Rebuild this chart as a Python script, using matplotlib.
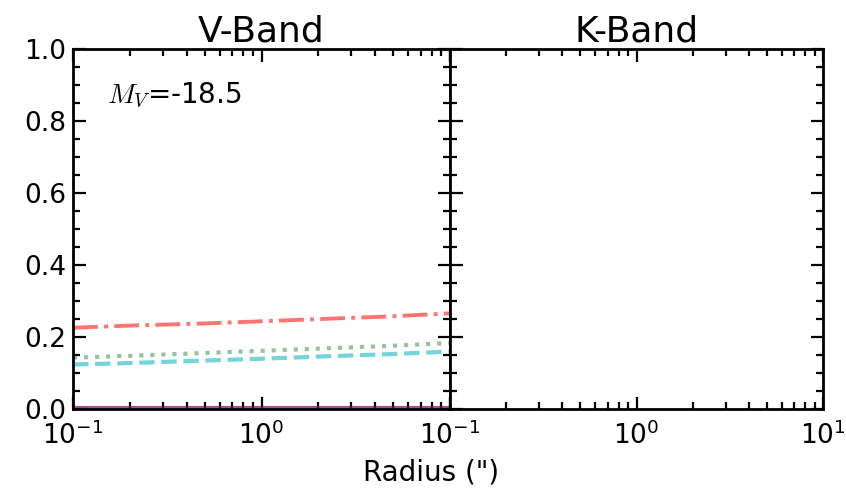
#!/usr/bin/env python3
"""
Radial profiles in V and K band, two panels sharing the y axis
"""

import matplotlib
matplotlib.use('Agg')
import matplotlib.pyplot as plt
from matplotlib.ticker import MultipleLocator, LogLocator, NullFormatter

# radius grid (arcsec) and V-band profiles
radius = [0.1, 0.2, 0.5, 1.0, 2.0, 5.0, 10.0]
v_red = [0.226, 0.232, 0.238, 0.244, 0.250, 0.258, 0.266]
v_green = [0.143, 0.148, 0.156, 0.162, 0.168, 0.176, 0.184]
v_cyan = [0.124, 0.128, 0.135, 0.140, 0.146, 0.153, 0.160]
v_purple = [0.003, 0.003, 0.003, 0.003, 0.003, 0.003, 0.003]

titles = ['V-Band', 'K-Band']
mag_text = r'$M_V$=-18.5'


def __style(ax):
    ax.set_xscale('log')
    ax.set_xlim(0.1, 10)
    ax.set_ylim(0.0, 1.0)
    ax.xaxis.set_major_locator(LogLocator(base=10, numticks=5))
    ax.xaxis.set_minor_locator(LogLocator(base=10, subs=range(2, 10), numticks=10))
    ax.xaxis.set_minor_formatter(NullFormatter())
    ax.yaxis.set_major_locator(MultipleLocator(0.2))
    ax.yaxis.set_minor_locator(MultipleLocator(0.05))
    ax.tick_params(which='both', direction='in', top=True, right=True, width=1.6)
    ax.tick_params(which='major', length=9)
    ax.tick_params(which='minor', length=5)
    ax.tick_params(axis='y', labelsize=19, pad=5)
    ax.tick_params(axis='x', labelsize=19, pad=9)
    for s in ax.spines.values():
        s.set_linewidth(2.0)


def main():
    fig = plt.figure(figsize=(8.46, 4.9), dpi=100)
    ax1 = fig.add_axes([0.0863, 0.165, 0.4457, 0.735])
    ax2 = fig.add_axes([0.532, 0.165, 0.441, 0.735], sharey=ax1)

    ax1.plot(radius, v_red, color='red', ls='-.', lw=2.8, alpha=0.55)
    ax1.plot(radius, v_green, color='#2e8b3a', ls=':', lw=3.0, alpha=0.5)
    ax1.plot(radius, v_cyan, color='#00b4b4', ls='--', lw=3.0, alpha=0.55)
    ax1.plot(radius, v_purple, color='purple', ls='-', lw=3.0, alpha=0.7)

    for ax, t in zip((ax1, ax2), titles):
        __style(ax)
        ax.set_title(t, fontsize=26, pad=5)

    ax1.set_yticks([0.0, 0.2, 0.4, 0.6, 0.8, 1.0])
    ax1.set_yticklabels(['0.0', '0.2', '0.4', '0.6', '0.8', '1.0'])
    plt.setp(ax2.get_yticklabels(), visible=False)
    # drop the last x label of the left panel, it sits under the right one's first
    fig.canvas.draw()
    for lbl in ax1.get_xticklabels():
        if lbl.get_position()[0] > 5:
            lbl.set_visible(False)

    ax1.text(0.09, 0.87, mag_text, transform=ax1.transAxes, fontsize=20,
             math_fontfamily='cm', va='center')

    fig.text(0.51, 0.02, 'Radius (")', fontsize=20, ha='center')

    fig.savefig('out.png', dpi=100)


if __name__ == '__main__':
    main()
